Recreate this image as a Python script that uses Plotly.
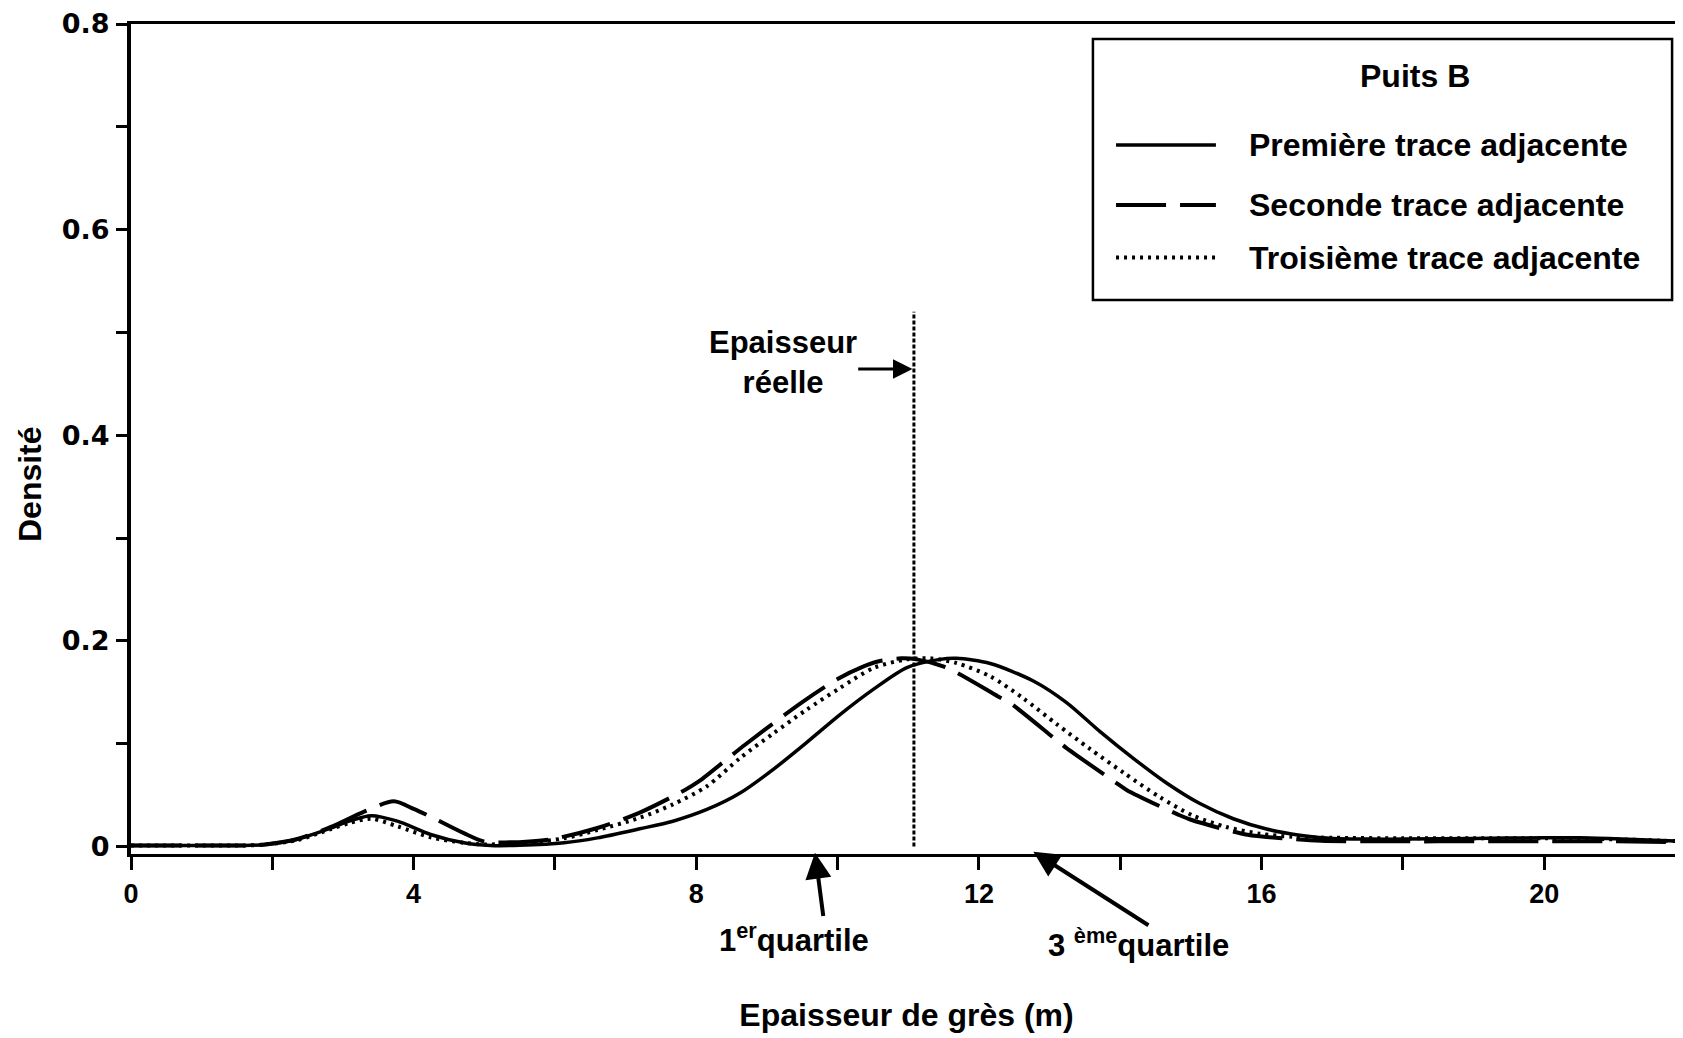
import plotly.graph_objects as go

# ---------------- data ----------------
solid_x = [0, 1.0, 1.6, 1.9, 2.34, 2.83, 3.1, 3.4, 3.77, 4.24,
           4.71, 5.09, 5.5, 6.13, 6.6, 7.2, 7.67, 8.15, 8.62, 9.09,
           9.56, 10.03, 10.51, 10.98, 11.45, 11.68, 12.16, 12.77, 13.24,
           13.71, 14.18, 14.65, 15.12, 15.6, 16.07, 16.54, 17.01, 17.5, 18.0,
           19.0, 20.0, 20.5, 21.0, 21.95]
solid_y = [0.001, 0.001, 0.001, 0.002, 0.0068, 0.018, 0.025, 0.030, 0.0246, 0.0117,
           0.0036, 0.001, 0.0012, 0.0036, 0.0084, 0.0172, 0.0246, 0.036, 0.052, 0.075,
           0.101, 0.128, 0.153, 0.174, 0.182, 0.183, 0.178, 0.161, 0.140,
           0.112, 0.086, 0.062, 0.042, 0.027, 0.017, 0.011, 0.0078, 0.0072, 0.0072,
           0.0078, 0.0085, 0.0085, 0.0075, 0.005]

dashed_x = [0, 1.0, 1.6, 1.9, 2.34, 2.83, 3.3, 3.72, 4.0, 4.24,
            4.71, 4.99, 5.3, 5.94, 6.6, 7.2, 7.84, 8.03, 8.69, 9.49,
            10.0, 10.36, 10.57, 10.9, 11.12, 11.54, 12.27, 12.44, 13.07, 13.24,
            13.92, 14.09, 14.82, 15.0, 15.8, 16.4, 16.84, 18.0, 19.0, 20.0,
            21.0, 21.95]
dashed_y = [0.001, 0.001, 0.001, 0.002, 0.007, 0.019, 0.034, 0.044, 0.0366, 0.029,
            0.013, 0.005, 0.004, 0.007, 0.018, 0.033, 0.055, 0.063, 0.099, 0.140,
            0.163, 0.175, 0.180, 0.183, 0.182, 0.174, 0.146, 0.1396, 0.105, 0.0957,
            0.063, 0.055, 0.031, 0.026, 0.0115, 0.0075, 0.0055, 0.005, 0.005, 0.005,
            0.005, 0.004]

dotted_x = [0, 1.0, 1.6, 1.9, 2.34, 2.83, 3.1, 3.4, 3.77, 4.24,
            4.71, 5.0, 5.66, 6.13, 6.6, 7.2, 7.67, 8.15, 8.62, 9.09,
            9.56, 10.03, 10.51, 10.98, 11.31, 11.68, 12.16, 12.63, 13.1, 13.57,
            14.05, 14.56, 15.03, 15.5, 15.97, 16.44, 17.0, 18.0, 19.0, 20.0,
            21.0, 21.95]
dotted_y = [0.001, 0.001, 0.001, 0.002, 0.006, 0.017, 0.023, 0.027, 0.0197, 0.009,
            0.0036, 0.002, 0.004, 0.008, 0.016, 0.028, 0.041, 0.0586, 0.086, 0.110,
            0.133, 0.154, 0.1737, 0.182, 0.183, 0.1785, 0.1655, 0.144, 0.119, 0.095,
            0.0716, 0.048, 0.030, 0.019, 0.0125, 0.0095, 0.0085, 0.008, 0.008, 0.008,
            0.007, 0.005]

series_names = ["Première trace adjacente", "Seconde trace adjacente", "Troisième trace adjacente"]
legend_title = "Puits B"
x_title = "Epaisseur de grès (m)"
y_title = "Densité"

true_thickness = 11.08          # "Epaisseur réelle"
true_line_top = 0.52
first_quartile = 9.68
third_quartile = 12.77

x_tickvals = [0, 4, 8, 12, 16, 20]
x_ticktext = ["0", "4", "8", "12", "16", "20"]
x_minor = [2, 6, 10, 14, 18]
y_tickvals = [0, 0.2, 0.4, 0.6, 0.8]
y_ticktext = ["0", "0.2", "0.4", "0.6", "0.8"]
y_minor = [0.1, 0.3, 0.5, 0.7]

# ---------------- styles ----------------
FONT = "Liberation Sans, Arial, Helvetica, sans-serif"
WIDE = "DejaVu Sans, Verdana, sans-serif"
TXT = dict(family=FONT, size=31, color="black", weight="bold")
LEG = dict(family=FONT, size=32, color="black", weight="bold")
styles = [dict(dash="solid", width=3.5),
          dict(dash="50px,14px", width=4),
          dict(dash="3px,5px", width=4)]
data = [(solid_x, solid_y), (dashed_x, dashed_y), (dotted_x, dotted_y)]

fig = go.Figure()
for (xs, ys), name, st in zip(data, series_names, styles):
    fig.add_trace(go.Scatter(x=xs, y=ys, mode="lines", name=name,
                             line=dict(color="black", width=st["width"], dash=st["dash"],
                                       shape="spline", smoothing=0.8),
                             showlegend=False))

# vertical dotted line: true thickness
fig.add_trace(go.Scatter(x=[true_thickness, true_thickness], y=[0, true_line_top],
                         mode="lines", line=dict(color="black", width=3, dash="4px,2px"),
                         showlegend=False, hoverinfo="skip"))

annos = []
# Epaisseur réelle
annos.append(dict(x=9.23, y=0.471, xref="x", yref="y", text="Epaisseur<br>réelle",
                  showarrow=False, font=TXT, align="center", xanchor="center", yanchor="middle"))
annos.append(dict(x=true_thickness - 0.02, y=0.4645, ax=10.27, ay=0.4645, xref="x", yref="y",
                  axref="x", ayref="y", text="", showarrow=True, arrowhead=2,
                  arrowsize=1.3, arrowwidth=3, arrowcolor="black"))
# 1er quartile
annos.append(dict(x=first_quartile, y=-0.006, ax=9.80, ay=-0.069, xref="x", yref="y",
                  axref="x", ayref="y", text="", showarrow=True, arrowhead=2,
                  arrowsize=1.3, arrowwidth=4, arrowcolor="black"))
annos.append(dict(x=0.4275, y=-0.1012, xref="paper", yref="paper", text="1<sup>er</sup>quartile",
                  showarrow=False, font=TXT, xanchor="center", yanchor="middle"))
# 3ème quartile
annos.append(dict(x=third_quartile, y=-0.005, ax=14.42, ay=-0.0775, xref="x", yref="y",
                  axref="x", ayref="y", text="", showarrow=True, arrowhead=2,
                  arrowsize=1.3, arrowwidth=4, arrowcolor="black"))
annos.append(dict(x=0.6493, y=-0.1067, xref="paper", yref="paper", text="3 <sup>ème</sup>quartile",
                  showarrow=False, font=TXT, xanchor="center", yanchor="middle"))
# y axis title (placed off-centre like the reference)
annos.append(dict(x=-0.0651, y=0.4458, xref="paper", yref="paper", text=y_title,
                  textangle=-90, showarrow=False, font=LEG, xanchor="center", yanchor="middle"))

# ---------------- manual legend box ----------------
shapes = [dict(type="rect", xref="paper", yref="paper", x0=0.6202, x1=0.9936,
               y0=0.6675, y1=0.9819, line=dict(color="black", width=2.5),
               fillcolor="white", layer="above")]
annos.append(dict(x=0.8276, y=0.9371, xref="paper", yref="paper", text=legend_title,
                  xanchor="center", yanchor="middle", showarrow=False, font=LEG))
row_y = [0.8542, 0.7819, 0.7186]
for name, st, ry in zip(series_names, styles, row_y):
    shapes.append(dict(type="line", xref="paper", yref="paper", x0=0.6351, x1=0.6995,
                       y0=ry, y1=ry, line=dict(color="black", width=st["width"], dash=st["dash"])))
    annos.append(dict(x=0.7195, y=ry, xref="paper", yref="paper", text=name, xanchor="left",
                      yanchor="middle", showarrow=False, font=LEG))

# the page body adds an 8 px offset, so the figure is sized to fit the 1683x1038 window
fig.update_layout(
    width=1675, height=1030,
    margin=dict(l=123, r=1, t=16, b=184, autoexpand=False),
    paper_bgcolor="white", plot_bgcolor="white",
    shapes=shapes, annotations=annos,
    xaxis=dict(range=[0, 21.95], tickmode="array", tickvals=x_tickvals, ticktext=x_ticktext,
               showgrid=False, zeroline=False, showline=True, linecolor="black", linewidth=3,
               mirror=True, ticks="outside", ticklen=13, tickwidth=3, tickcolor="black",
               minor=dict(tickmode="array", tickvals=x_minor, ticks="outside", ticklen=13,
                          tickwidth=3, tickcolor="black", showgrid=False),
               ticklabelstandoff=1, automargin=False,
               tickfont=dict(family=FONT, size=27, color="black", weight="bold"),
               title=dict(text=x_title, standoff=96, font=LEG)),
    yaxis=dict(range=[-0.0073, 0.8], tickmode="array", tickvals=y_tickvals, ticktext=y_ticktext,
               showgrid=False, zeroline=False, showline=True, linecolor="black", linewidth=4,
               ticks="outside", ticklen=11, tickwidth=3, tickcolor="black",
               minor=dict(tickmode="array", tickvals=y_minor, ticks="outside", ticklen=11,
                          tickwidth=3, tickcolor="black", showgrid=False),
               ticklabelstandoff=1, automargin=False,
               tickfont=dict(family=WIDE, size=27, color="black", weight="bold")),
)

fig.write_html("out.html")
